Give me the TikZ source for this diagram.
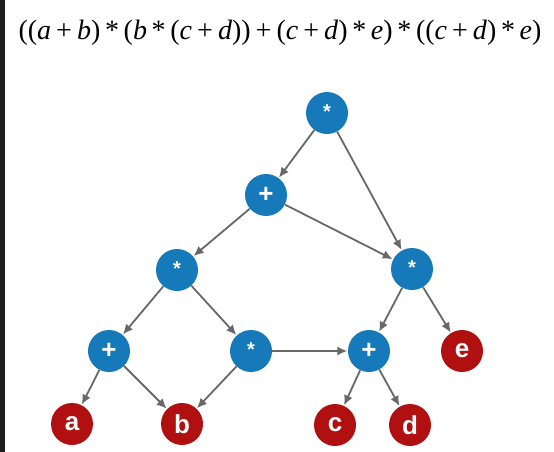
\documentclass[tikz,border=0pt]{standalone}
\usepackage{fontspec}
\setmainfont{Liberation Serif}
\newfontfamily\nodefont{Liberation Sans}
\usetikzlibrary{arrows.meta}
\definecolor{opblue}{RGB}{22,122,186}
\definecolor{leafred}{RGB}{176,16,16}
\definecolor{edgegray}{RGB}{104,104,104}
\definecolor{stripdark}{RGB}{30,30,30}
\newcommand{\vv}[1]{\textit{#1}}
\newcommand{\pl}{\hspace{0.18em}+\hspace{0.18em}}
\begin{document}
\begin{tikzpicture}[x=1pt,y=-1pt,
  opnode/.style={circle,fill=opblue,minimum size=42pt,inner sep=0pt,text=white,font=\nodefont\bfseries\fontsize{26}{26}\selectfont},
  starnode/.style={opnode,font=\nodefont\bfseries\fontsize{20}{20}\selectfont},
  leafnode/.style={circle,fill=leafred,minimum size=42pt,inner sep=0pt,text=white,font=\nodefont\bfseries\fontsize{26}{26}\selectfont},
  edge/.style={draw=edgegray,line width=1.8pt,-{Latex[length=10pt,width=9pt]},shorten >=0.5pt}]
\useasboundingbox (0,0) rectangle (554,452);
\fill[white] (0,0) rectangle (554,452);
\fill[stripdark] (0,0) rectangle (5,452);
\node[anchor=base,font=\fontsize{28}{28}\selectfont,inner sep=0pt] (title) at (280,40)
  {((\vv{a}\pl\vv{b})\,*\,(\vv{b}\,*\,(\vv{c}\pl\vv{d}))\pl(\vv{c}\pl\vv{d})\,*\,\vv{e})\,*\,((\vv{c}\pl\vv{d})\,*\,\vv{e})};
\node[starnode] (m1) at (327,113) {\raisebox{2pt}{*}};
\node[opnode] (p1) at (266,195) {+};
\node[starnode] (m2) at (177,270) {\raisebox{2pt}{*}};
\node[starnode] (m3) at (412,269) {\raisebox{2pt}{*}};
\node[opnode] (p2) at (109,351) {+};
\node[starnode] (m4) at (251,351) {\raisebox{2pt}{*}};
\node[opnode] (p3) at (369,351) {+};
\node[leafnode] (e) at (462,351) {e};
\node[leafnode] (a) at (72,424) {a};
\node[leafnode] (b) at (182,424) {b};
\node[leafnode] (c) at (335,425) {c};
\node[leafnode] (d) at (410,425) {d};
\draw[edge] (m1) -- (p1);
\draw[edge] (m1) -- (m3);
\draw[edge] (p1) -- (m2);
\draw[edge] (p1) -- (m3);
\draw[edge] (m2) -- (p2);
\draw[edge] (m2) -- (m4);
\draw[edge] (m3) -- (p3);
\draw[edge] (m3) -- (e);
\draw[edge] (p2) -- (a);
\draw[edge] (p2) -- (b);
\draw[edge] (m4) -- (b);
\draw[edge] (m4) -- (p3);
\draw[edge] (p3) -- (c);
\draw[edge] (p3) -- (d);
\end{tikzpicture}
\end{document}
